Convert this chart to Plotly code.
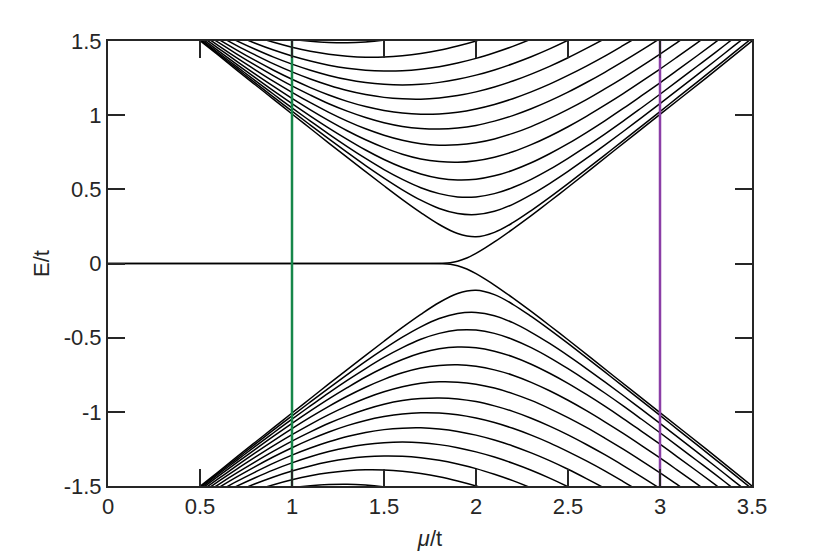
import plotly.graph_objects as go

# chemical potential grid (mu/t) at which the bands were read
mu = [0.5, 0.6, 0.7, 0.8, 0.9, 1.0, 1.1, 1.2, 1.3, 1.4, 1.5, 1.6, 1.7, 1.8, 1.9, 2.0,
      2.1, 2.2, 2.3, 2.4, 2.5, 2.6, 2.7, 2.8, 2.9, 3.0, 3.1, 3.2, 3.3, 3.4, 3.5]

# positive-energy bulk levels E/t (the lower half is the mirror image)
e01 = [1.503, 1.404, 1.304, 1.205, 1.107, 1.008, 0.910, 0.812, 0.715, 0.619, 0.524, 0.431, 0.343, 0.263, 0.202, 0.180,
       0.210, 0.275, 0.357, 0.446, 0.539, 0.634, 0.731, 0.828, 0.926, 1.024, 1.123, 1.221, 1.320, 1.420, 1.519]
e02 = [1.509, 1.412, 1.315, 1.218, 1.122, 1.027, 0.933, 0.840, 0.749, 0.660, 0.576, 0.497, 0.427, 0.371, 0.337, 0.330,
       0.352, 0.399, 0.464, 0.539, 0.621, 0.708, 0.798, 0.890, 0.984, 1.078, 1.174, 1.270, 1.367, 1.465, 1.562]
e03 = [1.517, 1.421, 1.327, 1.233, 1.141, 1.049, 0.960, 0.872, 0.788, 0.708, 0.633, 0.567, 0.511, 0.471, 0.449, 0.449,
       0.471, 0.512, 0.567, 0.634, 0.709, 0.789, 0.873, 0.960, 1.050, 1.141, 1.234, 1.328, 1.422, 1.518, 1.613]
e04 = [1.527, 1.434, 1.343, 1.253, 1.164, 1.078, 0.994, 0.913, 0.837, 0.765, 0.701, 0.647, 0.604, 0.575, 0.563, 0.568,
       0.591, 0.629, 0.679, 0.740, 0.808, 0.883, 0.962, 1.045, 1.131, 1.218, 1.308, 1.399, 1.491, 1.584, 1.678]
e05 = [1.539, 1.451, 1.363, 1.277, 1.194, 1.113, 1.036, 0.963, 0.895, 0.834, 0.781, 0.737, 0.705, 0.687, 0.682, 0.693,
       0.717, 0.753, 0.801, 0.858, 0.922, 0.992, 1.067, 1.145, 1.227, 1.311, 1.398, 1.486, 1.575, 1.666, 1.758]
e06 = [1.554, 1.469, 1.386, 1.306, 1.228, 1.154, 1.084, 1.019, 0.960, 0.908, 0.865, 0.831, 0.808, 0.798, 0.800, 0.814,
       0.840, 0.877, 0.923, 0.978, 1.039, 1.105, 1.177, 1.252, 1.331, 1.412, 1.496, 1.581, 1.669, 1.757, 1.847]
e07 = [1.571, 1.490, 1.412, 1.337, 1.265, 1.197, 1.135, 1.077, 1.027, 0.984, 0.949, 0.924, 0.910, 0.906, 0.913, 0.931,
       0.960, 0.997, 1.043, 1.096, 1.155, 1.220, 1.289, 1.362, 1.438, 1.517, 1.598, 1.682, 1.767, 1.853, 1.941]
e08 = [1.588, 1.512, 1.439, 1.369, 1.303, 1.242, 1.186, 1.136, 1.093, 1.058, 1.032, 1.014, 1.006, 1.008, 1.020, 1.042,
       1.072, 1.111, 1.157, 1.209, 1.268, 1.331, 1.398, 1.470, 1.544, 1.621, 1.701, 1.782, 1.866, 1.951, 2.037]
e09 = [1.608, 1.537, 1.469, 1.406, 1.346, 1.292, 1.244, 1.202, 1.166, 1.139, 1.120, 1.110, 1.108, 1.116, 1.132, 1.157,
       1.190, 1.230, 1.277, 1.329, 1.387, 1.450, 1.516, 1.586, 1.659, 1.735, 1.813, 1.893, 1.975, 2.058, 2.143]
e10 = [1.629, 1.563, 1.501, 1.444, 1.391, 1.344, 1.303, 1.268, 1.240, 1.220, 1.208, 1.204, 1.208, 1.221, 1.242, 1.270,
       1.305, 1.347, 1.394, 1.447, 1.505, 1.567, 1.633, 1.702, 1.774, 1.849, 1.926, 2.005, 2.086, 2.168, 2.252]
e11 = [1.652, 1.592, 1.536, 1.485, 1.439, 1.399, 1.365, 1.337, 1.316, 1.303, 1.298, 1.300, 1.310, 1.327, 1.352, 1.383,
       1.421, 1.464, 1.513, 1.567, 1.625, 1.687, 1.753, 1.821, 1.893, 1.967, 2.043, 2.121, 2.201, 2.283, 2.366]
e12 = [1.677, 1.623, 1.574, 1.530, 1.491, 1.458, 1.431, 1.411, 1.398, 1.391, 1.392, 1.400, 1.415, 1.437, 1.466, 1.500,
       1.541, 1.586, 1.637, 1.692, 1.750, 1.813, 1.879, 1.947, 2.019, 2.092, 2.168, 2.245, 2.325, 2.406, 2.488]
e13 = [1.675, 1.632, 1.593, 1.560, 1.533, 1.512, 1.498, 1.490, 1.488, 1.494, 1.506, 1.524, 1.549, 1.580, 1.616, 1.657,
       1.704, 1.755, 1.810, 1.868, 1.931, 1.996, 2.064, 2.134, 2.207, 2.282, 2.359, 2.437, 2.517, 2.598, 2.681]

# Majorana edge mode: pinned at zero, then splits off near mu = 1.84
mu_edge = [0.0, 1.75, 1.82, 1.86, 1.9, 1.95, 2.0, 2.05, 2.1, 2.2, 2.3, 2.4, 2.5, 2.75, 3.0, 3.25, 3.5]
e_edge = [0.0, 0.0, 0.001, 0.005, 0.015, 0.037, 0.068, 0.105, 0.145, 0.232, 0.323, 0.418, 0.514, 0.76, 1.005, 1.25, 1.5]

x_ticks = [0, 0.5, 1, 1.5, 2, 2.5, 3, 3.5]
x_labels = ["0", "0.5", "1", "1.5", "2", "2.5", "3", "3.5"]
y_ticks = [-1.5, -1, -0.5, 0, 0.5, 1, 1.5]
y_labels = ["-1.5", "-1", "-0.5", "0", "0.5", "1", "1.5"]

mu_markers = [1, 3]
marker_colors = ["#16874a", "#8b3ea6"]

FRAME = "#262626"
FONT = dict(family="Liberation Sans, Arial, sans-serif", size=22, color=FRAME)

fig = go.Figure()

bands = [e01, e02, e03, e04, e05, e06, e07, e08, e09, e10, e11, e12, e13]
for band in bands:
    for sign in (1, -1):
        fig.add_trace(go.Scatter(
            x=mu, y=[sign * e for e in band],
            mode="lines", line=dict(color="black", width=1.5, shape="spline"),
            hoverinfo="skip", showlegend=False,
        ))

for sign in (1, -1):
    fig.add_trace(go.Scatter(
        x=mu_edge, y=[sign * e for e in e_edge],
        mode="lines", line=dict(color="black", width=1.5, shape="spline", smoothing=0.6),
        hoverinfo="skip", showlegend=False,
    ))

for m, c in zip(mu_markers, marker_colors):
    fig.add_trace(go.Scatter(
        x=[m, m], y=[y_ticks[0], y_ticks[-1]],
        mode="lines", line=dict(color=c, width=2.5),
        hoverinfo="skip", showlegend=False,
    ))

axis_style = dict(
    showline=True, linewidth=2, linecolor=FRAME, mirror="ticks",
    ticks="inside", ticklen=17, tickwidth=2, tickcolor=FRAME,
    showgrid=False, zeroline=False, tickfont=FONT,
)

fig.update_xaxes(
    range=[0, 3.5], tickvals=x_ticks, ticktext=x_labels,
    title=dict(text="<i>μ</i>/t", font=FONT, standoff=12),
    **axis_style,
)
fig.update_yaxes(
    range=[-1.5, 1.5], tickvals=y_ticks, ticktext=y_labels,
    title=dict(text="E/t", font=FONT, standoff=8),
    **axis_style,
)

# the page body adds an 8 px offset, so margins are shifted to keep the frame in place
fig.update_layout(
    width=830, height=554,
    margin=dict(l=100, r=86, t=33, b=76),
    plot_bgcolor="white", paper_bgcolor="white",
    font=FONT,
)

fig.write_html("out.html")
